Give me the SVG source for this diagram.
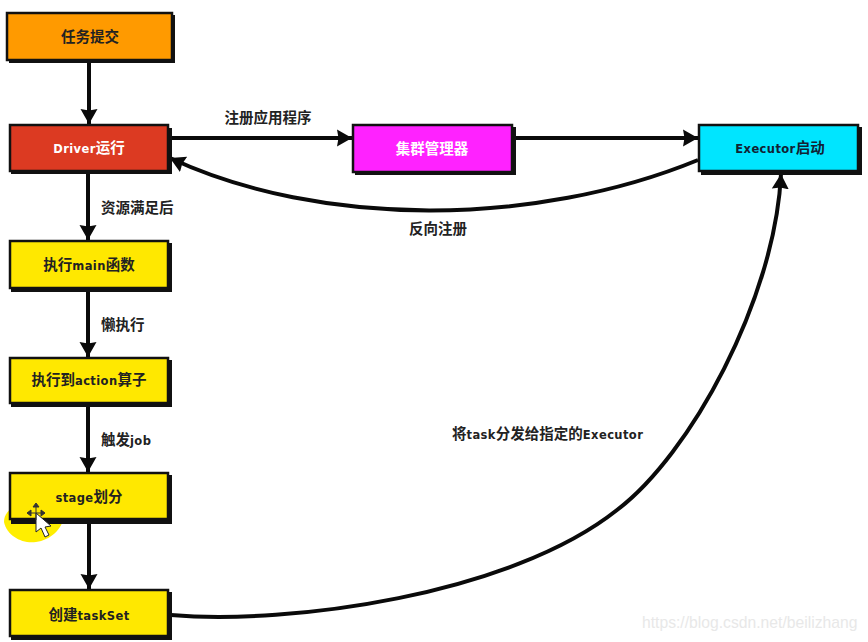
<svg xmlns="http://www.w3.org/2000/svg" width="868" height="642" viewBox="0 0 868 642">
<style>
.box{stroke:#111;stroke-width:2.5}
.sh{fill:#111}
.t{font-family:"Noto Sans CJK SC","DejaVu Sans",sans-serif;font-size:14.5px;font-weight:bold;fill:#222;text-anchor:middle}
.e{font-family:"DejaVu Sans",sans-serif;font-size:11.5px;letter-spacing:.4px}
.l{text-anchor:start}
.c{fill:none;stroke:#0a0a0a;stroke-width:4}
</style>
<defs>
<marker id="a" markerUnits="userSpaceOnUse" markerWidth="20" markerHeight="20" refX="15" refY="9" orient="auto"><path d="M0 0.5L15 9L0 17.5L1.5 9Z" fill="#0a0a0a"/></marker>
</defs>
<rect width="868" height="642" fill="#fff"/>
<path d="M38 500 C13 503 4 512 4 522 C7 536 22 544 36 542 C50 540 62 530 64 516Z" fill="#ffee00"/>
<g id="connectors">
<path class="c" d="M89 62V124" marker-end="url(#a)"/>
<path class="c" d="M171 138H352" marker-end="url(#a)"/>
<path class="c" d="M513 138H698" marker-end="url(#a)"/>
<path class="c" d="M698 160C535 227 320 228 170 158" marker-end="url(#a)"/>
<path class="c" d="M88 172V240" marker-end="url(#a)"/>
<path class="c" d="M88 290V357" marker-end="url(#a)"/>
<path class="c" d="M88 405V472" marker-end="url(#a)"/>
<path class="c" d="M89 522V589" marker-end="url(#a)"/>
<path class="c" d="M171 615C290 625 510 595 617 510C690 455 775 300 781 174" marker-end="url(#a)"/>
</g>
<g id="n1"><rect class="sh" x="9" y="15" width="166" height="48"/><rect class="box" x="7" y="13" width="165" height="47" fill="#ff9a00"/><text class="t" x="90" y="42">任务提交</text></g>
<g id="n2"><rect class="sh" x="11" y="128" width="161" height="46"/><rect class="box" x="10" y="125" width="158" height="46" fill="#dc3a22"/><text class="t" x="89" y="153" style="fill:#fff"><tspan class="e" style="fill:#fff">Driver</tspan>运行</text></g>
<g id="n3"><rect class="sh" x="355" y="127" width="161" height="48"/><rect class="box" x="353" y="125" width="159" height="47" fill="#ff22ff"/><text class="t" x="432" y="154" style="fill:#fff">集群管理器</text></g>
<g id="n4"><rect class="sh" x="701" y="127" width="161" height="48"/><rect class="box" x="699" y="125" width="159" height="46" fill="#00e5ff"/><text class="t" x="780" y="153" style="fill:#123"><tspan class="e" style="fill:#123">Executor</tspan>启动</text></g>
<g id="n5"><rect class="sh" x="11" y="243" width="161" height="49"/><rect class="box" x="10" y="241" width="158" height="47" fill="#ffe800"/><text class="t" x="89" y="270">执行<tspan class="e">main</tspan>函数</text></g>
<g id="n6"><rect class="sh" x="11" y="360" width="161" height="47"/><rect class="box" x="10" y="358" width="158" height="45" fill="#ffe800"/><text class="t" x="89" y="385">执行到<tspan class="e">action</tspan>算子</text></g>
<g id="n7"><rect class="sh" x="11" y="475" width="161" height="49"/><rect class="box" x="10" y="473" width="158" height="46" fill="#ffe800"/><text class="t" x="89" y="502"><tspan class="e">stage</tspan>划分</text></g>
<g id="n8"><rect class="sh" x="11" y="592" width="161" height="48"/><rect class="box" x="10" y="590" width="158" height="46" fill="#ffe800"/><text class="t" x="89" y="620">创建<tspan class="e">taskSet</tspan></text></g>
<g id="labels">
<text class="t" x="268" y="123">注册应用程序</text>
<text class="t" x="438" y="234">反向注册</text>
<text class="t l" x="101" y="213">资源满足后</text>
<text class="t l" x="101" y="330">懒执行</text>
<text class="t l" x="101" y="445">触发<tspan class="e">job</tspan></text>
<text class="t l" x="452" y="439">将<tspan class="e">task</tspan>分发给指定的<tspan class="e">Executor</tspan></text>
</g>
<g id="cursor">
<path d="M36 513L36 532L41 528L45 537L49 535L45 527L51 526Z" fill="#fff" stroke="#222" stroke-width="1"/>
<path d="M36 503L39 507H33ZM27 513L31 510V516ZM45 513L41 510V516ZM36 507V520M30 513H42" fill="#333" stroke="#333" stroke-width="1"/>
</g>
<text x="642" y="628" font-family="'Liberation Sans',sans-serif" font-size="15.7" fill="#e8e8e8">https://blog.csdn.net/beilizhang</text>
</svg>
